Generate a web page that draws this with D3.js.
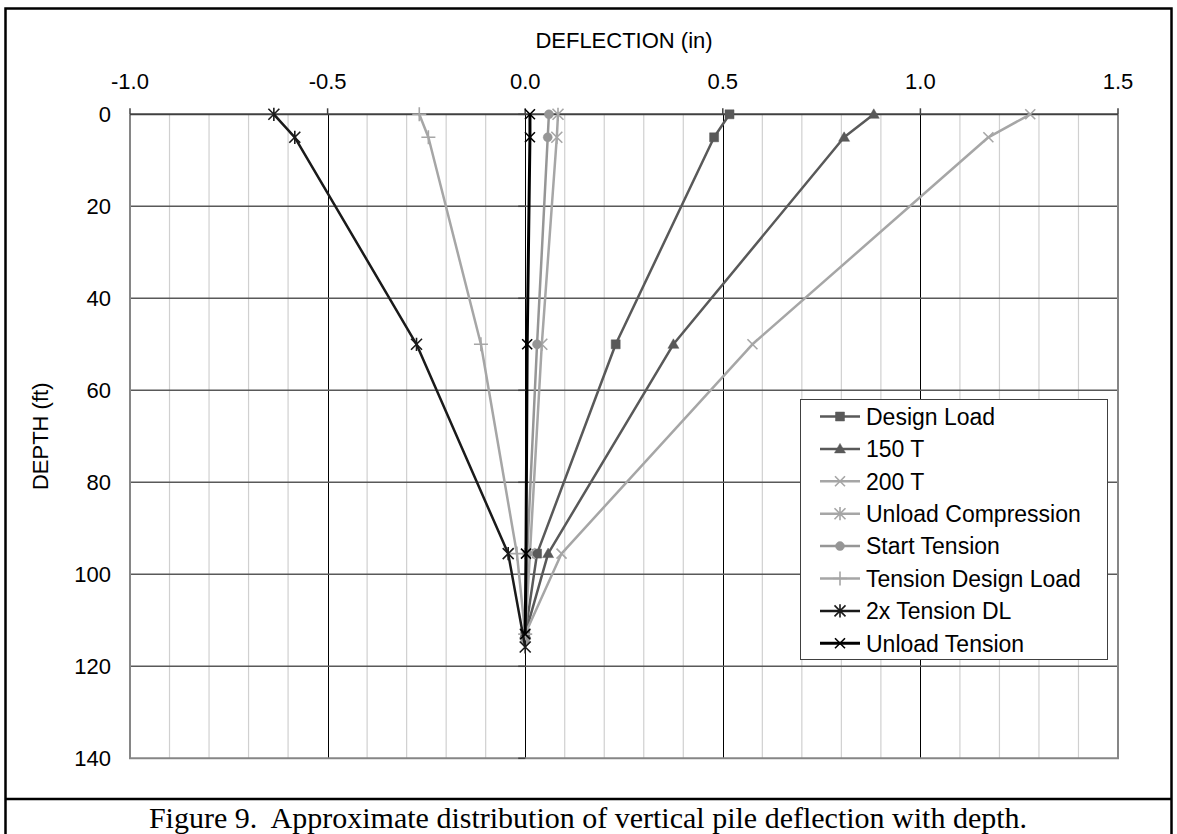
<!DOCTYPE html>
<html>
<head>
<meta charset="utf-8">
<script src="https://cdn.jsdelivr.net/npm/d3@7"></script>
<style>
  html, body { margin: 0; padding: 0; background: #fff; }
  svg { display: block; }
  text { font-family: "Liberation Sans", Arial, sans-serif; fill: #000; }
  .caption { font-family: "Liberation Serif", "Times New Roman", serif; white-space: pre; }
</style>
</head>
<body>
<svg id="chart" width="1177" height="834"></svg>
<script>
// ---------- data ----------
const depthFt = [0, 5, 50, 95.5];            // gauge depths (ft)
const toeDepthFt = [113, 113, 113, 113, 114.5, 113, 115.8, 113]; // toe depth per series
const seriesNames = ["Design Load", "150 T", "200 T", "Unload Compression",
  "Start Tension", "Tension Design Load", "2x Tension DL", "Unload Tension"];
const designLoad     = [0.517, 0.478, 0.229, 0.030, 0];
const load150T       = [0.882, 0.807, 0.375, 0.058, 0];
const load200T       = [1.278, 1.172, 0.575, 0.092, 0];
const unloadComp     = [0.083, 0.080, 0.042, 0.012, 0];
const startTension   = [0.060, 0.057, 0.030, 0.005, 0];
const tensionDL      = [-0.268, -0.245, -0.112, -0.021, 0];
const tension2xDL    = [-0.636, -0.583, -0.275, -0.043, 0];
const unloadTension  = [0.012, 0.012, 0.005, 0.002, 0];
const xTicks = [-1.0, -0.5, 0.0, 0.5, 1.0, 1.5];
const yTicks = [0, 20, 40, 60, 80, 100, 120, 140];
const xTitle = "DEFLECTION (in)";
const yTitle = "DEPTH (ft)";
const captionText = "Figure 9.  Approximate distribution of vertical pile deflection with depth.";

const seriesValues = [designLoad, load150T, load200T, unloadComp, startTension, tensionDL, tension2xDL, unloadTension];
const seriesStyle = [
  {color: "#595959", marker: "square", width: 2.5},
  {color: "#595959", marker: "triangle", width: 2.5},
  {color: "#a6a6a6", marker: "x", width: 2.5},
  {color: "#a6a6a6", marker: "star", width: 2.5},
  {color: "#969696", marker: "circle", width: 2.5},
  {color: "#a6a6a6", marker: "plus", width: 2.5},
  {color: "#1a1a1a", marker: "star", width: 2.5},
  {color: "#000000", marker: "x", width: 3}
];

// ---------- layout ----------
const svg = d3.select("#chart");
const P = {left: 130, right: 1118, top: 114.3, bottom: 758.3};
const x = d3.scaleLinear().domain([-1, 1.5]).range([P.left, P.right]);
const y = d3.scaleLinear().domain([0, 140]).range([P.top, P.bottom]);
const FS = 22;

// frame
svg.append("rect").attr("x", 5.5).attr("y", 8.5).attr("width", 1166).attr("height", 840)
  .attr("fill", "none").attr("stroke", "#000").attr("stroke-width", 2.5);
svg.append("line").attr("x1", 5).attr("x2", 1172).attr("y1", 799).attr("y2", 799)
  .attr("stroke", "#000").attr("stroke-width", 2.5);

const g = svg.append("g");

// minor vertical gridlines
const minor = d3.range(-10, 16).map(d => d / 10).filter(v => Math.abs(v * 2 - Math.round(v * 2)) > 1e-6);
g.selectAll(".minor").data(minor).enter().append("line")
  .attr("x1", d => x(d)).attr("x2", d => x(d)).attr("y1", P.top).attr("y2", P.bottom)
  .attr("stroke", "#d0d0d0").attr("stroke-width", 1.2);

// major vertical gridlines
g.selectAll(".majorv").data(xTicks.slice(1, -1)).enter().append("line")
  .attr("x1", d => Math.round(x(d)) + 0.5).attr("x2", d => Math.round(x(d)) + 0.5)
  .attr("y1", P.top).attr("y2", P.bottom)
  .attr("stroke", "#000").attr("stroke-width", 1);

// horizontal major gridlines
g.selectAll(".majorh").data(yTicks.slice(1, -1)).enter().append("line")
  .attr("x1", P.left).attr("x2", P.right).attr("y1", d => y(d)).attr("y2", d => y(d))
  .attr("stroke", "#595959").attr("stroke-width", 1.4);

// plot border (left, right, bottom)
g.append("path")
  .attr("d", `M${P.left},${P.top}V${P.bottom}H${P.right}V${P.top}`)
  .attr("fill", "none").attr("stroke", "#868686").attr("stroke-width", 2);

// vertical axis at x=0 with ticks to the left
g.selectAll(".yt").data(yTicks).enter().append("line")
  .attr("x1", x(0) - 7).attr("x2", x(0)).attr("y1", d => y(d)).attr("y2", d => y(d))
  .attr("stroke", "#404040").attr("stroke-width", 1.5);

// x axis at top (y=0) with upward ticks
g.append("line").attr("x1", P.left).attr("x2", P.right).attr("y1", y(0)).attr("y2", y(0))
  .attr("stroke", "#404040").attr("stroke-width", 2);
g.selectAll(".xt").data(xTicks).enter().append("line")
  .attr("x1", d => x(d)).attr("x2", d => x(d)).attr("y1", y(0) - 6).attr("y2", y(0))
  .attr("stroke", "#404040").attr("stroke-width", 1.5);

// tick labels
g.selectAll(".xl").data(xTicks).enter().append("text")
  .attr("x", d => x(d)).attr("y", 89).attr("text-anchor", "middle")
  .attr("font-size", FS).text(d => d3.format(".1f")(d).replace("\u2212", "-"));
g.selectAll(".yl").data(yTicks).enter().append("text")
  .attr("x", 111).attr("y", d => y(d) + 8).attr("text-anchor", "end")
  .attr("font-size", FS).text(d => d);

// titles
svg.append("text").attr("x", (P.left + P.right) / 2).attr("y", 48).attr("text-anchor", "middle")
  .attr("font-size", FS).text(xTitle);
svg.append("text").attr("transform", `translate(48,${(P.top + P.bottom) / 2}) rotate(-90)`)
  .attr("text-anchor", "middle").attr("font-size", FS).text(yTitle);

// marker paths
function markerPath(type, s) {
  const h = s / 2;
  switch (type) {
    case "square": return `M${-h},${-h}H${h}V${h}H${-h}Z`;
    case "triangle": return `M0,${-h * 1.1}L${h * 1.1},${h * 0.8}L${-h * 1.1},${h * 0.8}Z`;
    case "circle": return d3.symbol(d3.symbolCircle, Math.PI * h * h)();
    case "x": return `M${-h},${-h}L${h},${h}M${-h},${h}L${h},${-h}`;
    case "plus": return `M${-h},0H${h}M0,${-h}V${h}`;
    case "star": return `M${-h},${-h}L${h},${h}M${-h},${h}L${h},${-h}M0,${-h * 1.2}V${h * 1.2}`;
  }
}
function markerAttrs(sel, st) {
  const filled = ["square", "triangle", "circle"].includes(st.marker);
  const size = {square: 9, triangle: 10, circle: 9, x: 10, plus: 14, star: 11}[st.marker];
  sel.attr("d", markerPath(st.marker, size))
    .attr("fill", filled ? st.color : "none")
    .attr("stroke", st.color)
    .attr("stroke-width", filled ? 0.5 : 1.6);
}

// series
const line = d3.line().x(d => x(d[0])).y(d => y(d[1]));
seriesValues.forEach((vals, i) => {
  const st = seriesStyle[i];
  const depths = depthFt.concat([toeDepthFt[i]]);
  const pts = vals.map((v, k) => [v, depths[k]]);
  const sg = g.append("g");
  sg.append("path").attr("d", line(pts)).attr("fill", "none")
    .attr("stroke", st.color).attr("stroke-width", st.width).attr("stroke-linejoin", "round");
  sg.selectAll("path.m").data(pts).enter().append("path").attr("class", "m")
    .attr("transform", d => `translate(${x(d[0])},${y(d[1])})`)
    .call(markerAttrs, st);
});

// legend
const L = {x: 800, y: 399, w: 307, h: 260, row: 32.4, first: 416.5};
const lg = svg.append("g");
lg.append("rect").attr("x", L.x + 0.5).attr("y", L.y + 0.5).attr("width", L.w).attr("height", L.h)
  .attr("fill", "#fff").attr("stroke", "#404040").attr("stroke-width", 1);
seriesNames.forEach((name, i) => {
  const st = seriesStyle[i];
  const cy = L.first + i * L.row;
  lg.append("line").attr("x1", 820).attr("x2", 860).attr("y1", cy).attr("y2", cy)
    .attr("stroke", st.color).attr("stroke-width", st.width);
  lg.append("path").attr("transform", `translate(840,${cy})`).call(markerAttrs, st);
  lg.append("text").attr("x", 866).attr("y", cy + 8.2).attr("font-size", 23).text(name);
});

// caption
svg.append("text").attr("class", "caption").attr("x", 588).attr("y", 828)
  .attr("text-anchor", "middle").attr("font-size", 30).text(captionText);
</script>
</body>
</html>
